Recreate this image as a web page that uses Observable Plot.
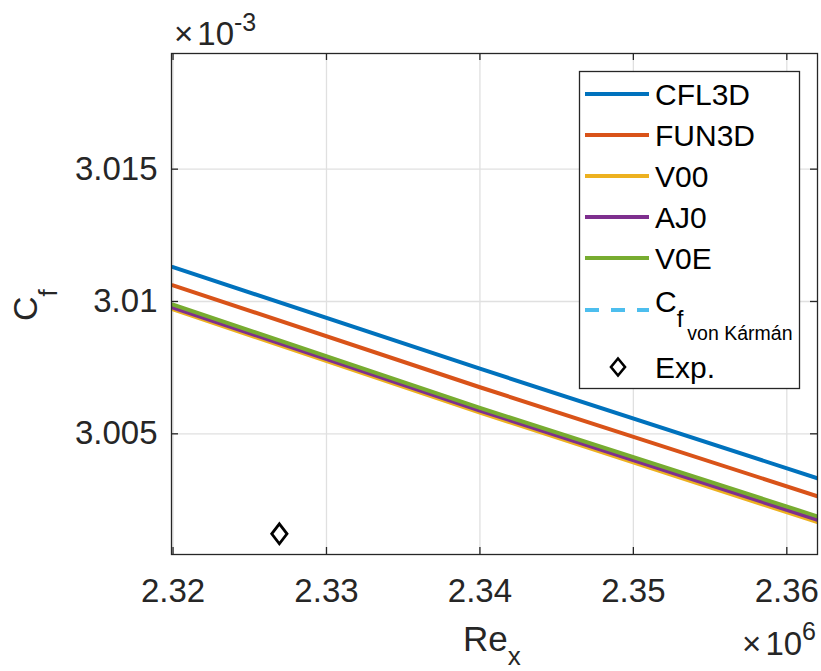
<!DOCTYPE html>
<html>
<head>
<meta charset="utf-8">
<script src="https://cdn.jsdelivr.net/npm/d3@7"></script>
<script src="https://cdn.jsdelivr.net/npm/@observablehq/plot@0.6"></script>
<style>
  html, body { margin: 0; padding: 0; background: #fff; }
  #chart { width: 821px; height: 671px; }
</style>
</head>
<body>
<div id="chart"></div>
<script>
// Re_x in units of 1e6, Cf in units of 1e-3
const reX = [2.32, 2.34, 2.362];
const cfl3d = [3.01130, 3.00746, 3.00332];
const fun3d = [3.01061, 3.00676, 3.00264];
const v00   = [3.00970, 3.00580, 3.00166];
const aj0   = [3.00977, 3.00588, 3.00175];
const v0e   = [3.00988, 3.00598, 3.00188];
const seriesNames  = ["CFL3D", "FUN3D", "V00", "AJ0", "V0E"];
const seriesValues = [cfl3d, fun3d, v00, aj0, v0e];
const seriesColors = ["#0072BD", "#D95319", "#EDB120", "#7E2F8E", "#77AC30"];
const vonKarmanColor = "#4DBEEE";
const expRe = [2.32693];
const expCf = [3.00122];
const xTicks = [2.32, 2.33, 2.34, 2.35, 2.36];
const yTicks = [3.005, 3.01, 3.015];
const xDomain = [2.3199, 2.362];
const yDomain = [3.00044, 3.01937];

const W = 821, H = 671;
const mL = 171, mR = 4, mT = 53, mB = 117;
const fw = W - mL - mR, fh = H - mT - mB;
const font = "'Liberation Sans', Arial, Helvetica, sans-serif";
const axisColor = "#262626";
const gridColor = "#e0e0e0";
const tickLen = 7;

const fmt = d => String(+d.toFixed(4));

const diamond = {
  draw(context, size) {
    const r = Math.sqrt(size / Math.PI);
    context.moveTo(0, -r * 1.2);
    context.lineTo(r * 0.92, 0);
    context.lineTo(0, r * 1.2);
    context.lineTo(-r * 0.92, 0);
    context.closePath();
  }
};

const lineMarks = seriesNames.map((name, i) =>
  Plot.line(reX.map((x, j) => ({x, y: seriesValues[i][j]})), {
    x: "x", y: "y", stroke: seriesColors[i], strokeWidth: 4, clip: true
  })
);

const expData = expRe.map((x, i) => ({x, y: expCf[i]}));

const plot = Plot.plot({
  width: W, height: H,
  marginLeft: mL, marginRight: mR, marginTop: mT, marginBottom: mB,
  style: {background: "#fff", fontFamily: font, color: axisColor, overflow: "visible"},
  x: {domain: xDomain},
  y: {domain: yDomain},
  marks: [
    Plot.gridX(xTicks, {stroke: gridColor, strokeOpacity: 1, strokeWidth: 1.3}),
    Plot.gridY(yTicks, {stroke: gridColor, strokeOpacity: 1, strokeWidth: 1.3}),
    ...lineMarks,
    Plot.dot(expData, {x: "x", y: "y", symbol: diamond, r: 8.3, stroke: "#000", strokeWidth: 2.8, fill: "none"}),
    Plot.frame({stroke: axisColor, strokeWidth: 1.3}),
    Plot.ruleX(xTicks, {x: d => d, insetTop: fh - tickLen, stroke: axisColor, strokeWidth: 1.3}),
    Plot.ruleX(xTicks, {x: d => d, insetBottom: fh - tickLen, stroke: axisColor, strokeWidth: 1.3}),
    Plot.ruleY(yTicks, {y: d => d, insetRight: fw - tickLen, stroke: axisColor, strokeWidth: 1.3}),
    Plot.ruleY(yTicks, {y: d => d, insetLeft: fw - tickLen, stroke: axisColor, strokeWidth: 1.3}),
    Plot.axisX(xTicks, {tickSize: 0, tickPadding: 24, fontSize: 33, tickFormat: fmt, label: null}),
    Plot.axisY(yTicks, {tickSize: 0, tickPadding: 14, fontSize: 33, tickFormat: fmt, label: null})
  ]
});

document.getElementById("chart").appendChild(plot);

const svg = d3.select(plot);

function addText(parent, x, y, size, anchor) {
  return parent.append("text").attr("x", x).attr("y", y)
    .attr("text-anchor", anchor || "start")
    .attr("fill", "#000")
    .style("font-family", font).style("font-size", size + "px");
}

// exponent labels
const e3 = addText(svg, 174, 45, 33).attr("fill", axisColor);
e3.append("tspan").text("×");
e3.append("tspan").attr("dx", 4).text("10");
e3.append("tspan").attr("dy", -14).style("font-size", "25px").text("-3");

const e6 = addText(svg, 816, 655, 33, "end").attr("fill", axisColor);
e6.append("tspan").text("×");
e6.append("tspan").attr("dx", 4).text("10");
e6.append("tspan").attr("dy", -15).style("font-size", "25px").text("6");

// axis labels
const xl = addText(svg, 463, 651, 35).attr("fill", axisColor);
xl.append("tspan").text("Re");
xl.append("tspan").attr("dy", 14).style("font-size", "26px").text("x");

const yl = svg.append("text").attr("transform", "translate(37,321) rotate(-90)")
  .attr("text-anchor", "start").attr("fill", axisColor)
  .style("font-family", font).style("font-size", "34px");
yl.append("tspan").text("C");
yl.append("tspan").attr("dy", 20).style("font-size", "26px").text("f");

// legend
const lg = svg.append("g");
lg.append("rect").attr("x", 579.5).attr("y", 71.5).attr("width", 220).attr("height", 317)
  .attr("fill", "#fff").attr("stroke", axisColor).attr("stroke-width", 1.3);
const rowY = [94, 135, 176, 217, 258];
seriesNames.forEach((name, i) => {
  lg.append("line").attr("x1", 585).attr("x2", 649).attr("y1", rowY[i]).attr("y2", rowY[i])
    .attr("stroke", seriesColors[i]).attr("stroke-width", 4);
  addText(lg, 655, rowY[i] + 11, 30).text(name);
});
lg.append("line").attr("x1", 585).attr("x2", 649).attr("y1", 310).attr("y2", 310)
  .attr("stroke", vonKarmanColor).attr("stroke-width", 4).attr("stroke-dasharray", "14,12");
const vk = addText(lg, 655, 312, 30);
vk.append("tspan").text("C");
vk.append("tspan").attr("dy", 15).style("font-size", "24px").text("f");
vk.append("tspan").attr("dy", 13).attr("dx", 4).style("font-size", "19.5px").text("von Kármán");
lg.append("path").attr("transform", "translate(618,367)")
  .attr("d", "M0,-8.5L7,0L0,8.5L-7,0Z").attr("fill", "none").attr("stroke", "#000").attr("stroke-width", 2.6);
addText(lg, 655, 378, 30).text("Exp.");
</script>
</body>
</html>
